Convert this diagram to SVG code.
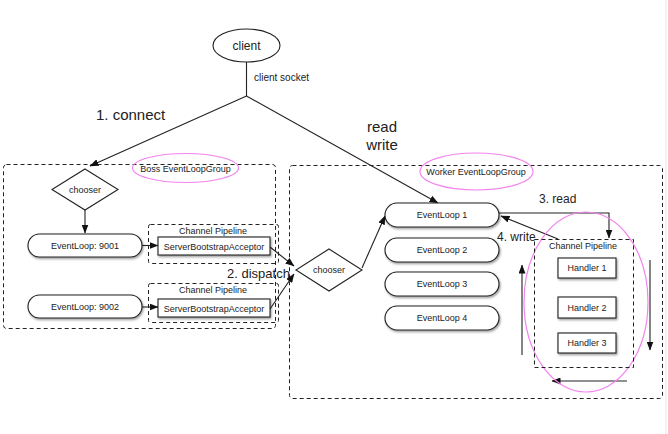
<svg xmlns="http://www.w3.org/2000/svg" width="668" height="434" viewBox="0 0 668 434">
<defs>
<marker id="ah" markerWidth="9" markerHeight="7" refX="8.5" refY="3.5" orient="auto" markerUnits="userSpaceOnUse">
<path d="M0,0 L9,3.5 L0,7 Z" fill="#111"/>
</marker>
<filter id="sh" x="-10%" y="-20%" width="130%" height="160%">
<feDropShadow dx="1" dy="1.5" stdDeviation="1" flood-color="#000" flood-opacity="0.4"/>
</filter>
</defs>
<style>
text{font-family:"Liberation Sans",Arial,Helvetica,sans-serif;fill:#222;}
.s9{font-size:9px;}
.node{fill:#fff;stroke:#222;stroke-width:1.1;}
.pill{fill:#fff;stroke:#222;stroke-width:1.1;filter:url(#sh);}
.box{fill:#fff;stroke:#222;stroke-width:1.1;filter:url(#sh);}
.dash{fill:none;stroke:#222;stroke-width:1;stroke-dasharray:4,3;}
.pink{fill:none;stroke:#f384ef;stroke-width:1.2;}
.ln{fill:none;stroke:#222;stroke-width:1.1;}
.ar{fill:none;stroke:#222;stroke-width:1.1;marker-end:url(#ah);}
</style>
<rect width="668" height="434" fill="#fff"/>
<line x1="666" y1="0" x2="666" y2="434" stroke="#e4e4e4" stroke-width="1"/>

<g id="boss-group">
<rect class="dash" x="3.5" y="164.5" width="272" height="164" rx="3"/>
<ellipse class="pink" cx="185.5" cy="168" rx="53" ry="14.5"/>
<text class="s9" x="185.5" y="171.5" text-anchor="middle">Boss EventLoopGroup</text>
</g>

<g id="worker-group">
<rect class="dash" x="289.5" y="165.5" width="373" height="233" rx="3"/>
<ellipse class="pink" cx="476.5" cy="171.5" rx="56.5" ry="18.5"/>
<text class="s9" x="476" y="175" text-anchor="middle">Worker EventLoopGroup</text>
</g>

<g id="client">
<ellipse class="node" cx="246.5" cy="45.5" rx="33.5" ry="16.5"/>
<text x="246.5" y="50" font-size="12" text-anchor="middle">client</text>
</g>

<g id="connectors">
<line class="ln" x1="246.5" y1="62" x2="246.5" y2="96"/>
<line class="ar" x1="246.5" y1="96" x2="90" y2="166"/>
<line class="ar" x1="246.5" y1="96" x2="438" y2="203"/>
<line class="ar" x1="85" y1="210" x2="85" y2="233"/>
<line class="ar" x1="142" y1="245.5" x2="158" y2="245.5"/>
<line class="ar" x1="142" y1="307" x2="158" y2="307"/>
<line class="ar" x1="270" y1="247" x2="294" y2="266"/>
<line class="ar" x1="270" y1="309" x2="294" y2="274"/>
<line class="ar" x1="362" y1="268" x2="385" y2="216"/>
<polyline class="ar" points="498,213 609,213 609,238"/>
<line class="ar" x1="558" y1="239" x2="501" y2="216"/>
<line class="ar" x1="650" y1="260" x2="650" y2="350"/>
<line class="ar" x1="627" y1="381" x2="552" y2="381"/>
<line class="ar" x1="522" y1="355" x2="522" y2="265"/>
<text x="254" y="80.5" font-size="10">client socket</text>
<text x="96" y="120" font-size="15">1. connect</text>
<text x="382" y="132" font-size="15" text-anchor="middle">read</text>
<text x="382" y="150" font-size="15" text-anchor="middle">write</text>
<text x="227" y="277.5" font-size="13">2. dispatch</text>
<text x="539" y="203" font-size="12">3. read</text>
<text x="497" y="240.5" font-size="12">4. write</text>
</g>

<g id="boss-chooser">
<polygon class="node" points="85,169 118,189.5 85,210 52,189.5"/>
<text class="s9" x="85" y="192.5" text-anchor="middle">chooser</text>
</g>

<g id="eventloop-9001">
<rect class="pill" x="28" y="234" width="114" height="23" rx="11.5"/>
<text class="s9" x="85" y="248.5" text-anchor="middle">EventLoop: 9001</text>
</g>

<g id="eventloop-9002">
<rect class="pill" x="28" y="295" width="114" height="23" rx="11.5"/>
<text class="s9" x="85" y="309.5" text-anchor="middle">EventLoop: 9002</text>
</g>

<g id="pipeline-1">
<rect class="dash" x="148.5" y="224.5" width="130" height="39" rx="2"/>
<text class="s9" x="213" y="233.5" text-anchor="middle">Channel Pipeline</text>
<rect class="box" x="158" y="237" width="112" height="18"/>
<text class="s9" x="214" y="249.5" text-anchor="middle">ServerBootstrapAcceptor</text>
</g>

<g id="pipeline-2">
<rect class="dash" x="148.5" y="283.5" width="130" height="39" rx="2"/>
<text class="s9" x="213" y="292.5" text-anchor="middle">Channel Pipeline</text>
<rect class="box" x="158" y="299" width="112" height="18"/>
<text class="s9" x="214" y="311.5" text-anchor="middle">ServerBootstrapAcceptor</text>
</g>

<g id="worker-chooser">
<polygon class="node" points="329,249 362,270 329,291 296,270"/>
<text class="s9" x="329" y="273" text-anchor="middle">chooser</text>
</g>

<g id="eventloop-1">
<rect class="pill" x="385" y="203" width="114" height="24" rx="12"/>
<text class="s9" x="442" y="218" text-anchor="middle">EventLoop 1</text>
</g>
<g id="eventloop-2">
<rect class="pill" x="385" y="238" width="114" height="24" rx="12"/>
<text class="s9" x="442" y="253" text-anchor="middle">EventLoop 2</text>
</g>
<g id="eventloop-3">
<rect class="pill" x="385" y="272" width="114" height="24" rx="12"/>
<text class="s9" x="442" y="287" text-anchor="middle">EventLoop 3</text>
</g>
<g id="eventloop-4">
<rect class="pill" x="385" y="306" width="114" height="24" rx="12"/>
<text class="s9" x="442" y="321" text-anchor="middle">EventLoop 4</text>
</g>

<g id="worker-pipeline">
<ellipse class="pink" cx="586" cy="302" rx="62" ry="90"/>
<rect class="dash" x="534.5" y="239.5" width="99" height="128"/>
<text class="s9" x="583" y="249" text-anchor="middle">Channel Pipeline</text>
<g id="handler-1">
<rect class="box" x="558" y="258" width="58" height="20"/>
<text class="s9" x="587" y="271" text-anchor="middle">Handler 1</text>
</g>
<g id="handler-2">
<rect class="box" x="558" y="297" width="58" height="21"/>
<text class="s9" x="587" y="310.5" text-anchor="middle">Handler 2</text>
</g>
<g id="handler-3">
<rect class="box" x="558" y="333" width="58" height="20"/>
<text class="s9" x="587" y="346" text-anchor="middle">Handler 3</text>
</g>
</g>
</svg>
